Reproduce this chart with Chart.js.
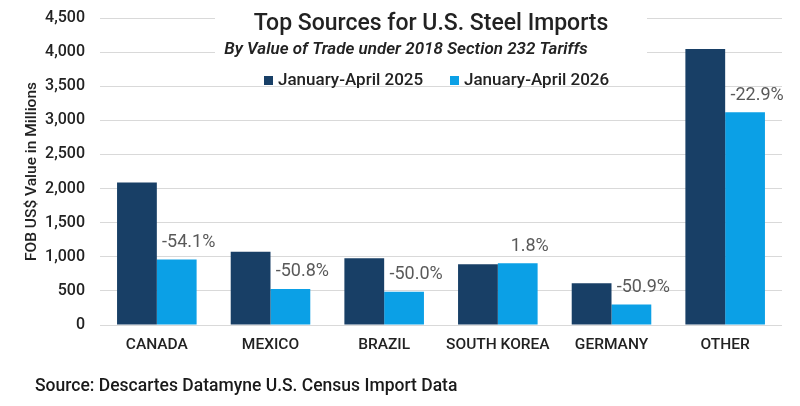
<!DOCTYPE html>
<html>
<head>
<meta charset="utf-8">
<script src="https://cdn.jsdelivr.net/npm/chart.js@4"></script>
<style>
  html, body { margin: 0; padding: 0; background: #fff; }
  #wrap { position: relative; width: 800px; height: 406px; }
  #source {
    position: absolute; left: 35px; top: 375px;
    font: 500 17.5px Roboto, sans-serif; color: #1a1a1a;
  }
</style>
</head>
<body>
<div id="wrap">
  <canvas id="steelChart" width="800" height="406"></canvas>
  <div id="source">Source: Descartes Datamyne U.S. Census Import Data</div>
</div>
<script>
// Datos
const categorias = ['CANADA', 'MEXICO', 'BRAZIL', 'SOUTH KOREA', 'GERMANY', 'OTHER'];
const valores2025 = [2090, 1075, 978, 890, 611, 4047];
const valores2026 = [959, 529, 489, 906, 300, 3120];
const cambios = ['-54.1%', '-50.8%', '-50.0%', '1.8%', '-50.9%', '-22.9%'];
const etiquetasSerie = ['January-April 2025', 'January-April 2026'];
const coloresSerie = ['#183f66', '#0ba0e6'];
const titulo = 'Top Sources for U.S. Steel Imports';
const subtitulo = 'By Value of Trade under 2018 Section 232 Tariffs';

// Titulo, leyenda y etiquetas de cambio dibujados sobre el area del grafico
const overlayPlugin = {
  id: 'overlay',
  afterDraw(chart) {
    const ctx = chart.ctx;
    ctx.save();

    // etiquetas de % sobre la barra 2026
    const meta = chart.getDatasetMeta(1);
    ctx.font = '18px Roboto, sans-serif';
    ctx.fillStyle = '#595959';
    ctx.textAlign = 'center';
    ctx.textBaseline = 'middle';
    meta.data.forEach((bar, i) => {
      ctx.fillText(cambios[i], bar.x + 12, bar.y - 17);
    });

    // caja blanca detras del titulo
    ctx.fillStyle = '#fff';
    ctx.fillRect(215, 4, 432, 60);

    ctx.fillStyle = '#222';
    ctx.font = '500 23px Roboto, sans-serif';
    ctx.fillText(titulo, 431, 24);
    ctx.font = 'italic 600 17px Roboto, sans-serif';
    ctx.fillText(subtitulo, 406, 50);

    // leyenda
    ctx.textAlign = 'left';
    ctx.font = '500 17px Roboto, sans-serif';
    const xs = [264, 450];
    chart.data.datasets.forEach((ds, i) => {
      ctx.fillStyle = ds.backgroundColor;
      ctx.fillRect(xs[i], 76, 9, 9);
      ctx.fillStyle = '#222';
      ctx.fillText(ds.label, xs[i] + 14, 81);
    });
    ctx.restore();
  }
};

new Chart(document.getElementById('steelChart'), {
  type: 'bar',
  data: {
    labels: categorias,
    datasets: [
      { label: etiquetasSerie[0], data: valores2025, backgroundColor: coloresSerie[0] },
      { label: etiquetasSerie[1], data: valores2026, backgroundColor: coloresSerie[1] }
    ]
  },
  options: {
    responsive: false,
    animation: false,
    layout: { padding: { left: 23, right: 18, top: 18, bottom: 41 } },
    datasets: { bar: { categoryPercentage: 0.7, barPercentage: 1.0 } },
    plugins: {
      legend: { display: false },
      title: { display: false },
      tooltip: { enabled: false }
    },
    scales: {
      x: {
        afterFit: (s) => { s.height = 40; s.paddingLeft = 0; s.paddingRight = 0; },
        grid: { display: false },
        border: { display: false },
        ticks: { color: '#222', font: { family: 'Roboto', size: 15.5, weight: '500' }, padding: 3 }
      },
      y: {
        min: 0,
        max: 4500,
        afterFit: (s) => { s.width = 77; s.paddingTop = 0; s.paddingBottom = 0; },
        grid: { color: '#d9d9d9', lineWidth: 1, drawTicks: false },
        border: { display: false },
        ticks: {
          stepSize: 500,
          color: '#222',
          padding: 15,
          font: { family: 'Roboto', size: 16, weight: '500' },
          callback: (v) => v.toLocaleString('en-US')
        },
        title: {
          display: true,
          text: 'FOB US$ Value in Millions',
          color: '#222',
          font: { family: 'Roboto', size: 15.5, weight: '500' },
          padding: { top: 0, bottom: 0 }
        }
      }
    }
  },
  plugins: [overlayPlugin]
});
</script>
</body>
</html>
